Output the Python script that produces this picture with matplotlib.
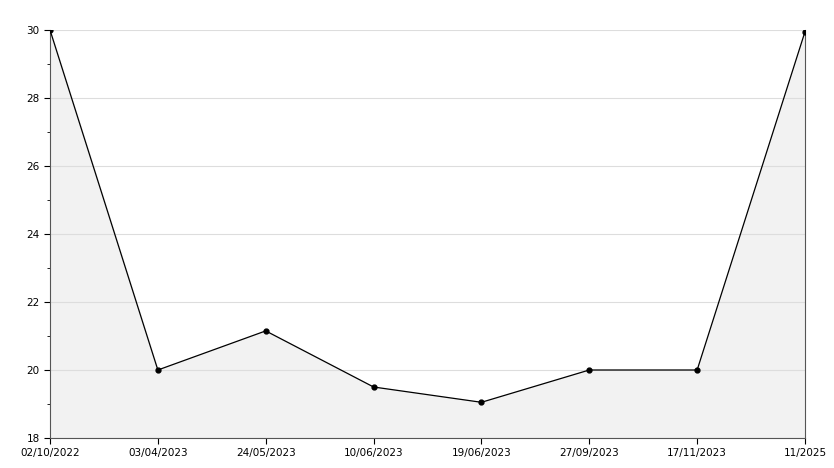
import matplotlib
matplotlib.use("Agg")
import matplotlib.pyplot as plt
from matplotlib.ticker import MultipleLocator

dates = ["02/10/2022", "03/04/2023", "24/05/2023", "10/06/2023",
         "19/06/2023", "27/09/2023", "17/11/2023", "11/2025"]
values = [30, 20, 21.15, 19.5, 19.05, 20, 20, 29.95]

fig = plt.figure(figsize=(8.34, 4.68), dpi=100)
ax = fig.add_axes([50 / 834, 30 / 468, 755 / 834, 408 / 468])
x = list(range(len(dates)))

ax.fill_between(x, values, 18, color="#f2f2f2", zorder=1)
ax.plot(x, values, color="black", linewidth=0.9, marker="o", markersize=3.5, zorder=3)

ax.set_xlim(0, len(dates) - 1)
ax.set_ylim(18, 30)
ax.set_xticks(x)
ax.set_xticklabels(dates)
ax.yaxis.set_major_locator(MultipleLocator(2))
ax.yaxis.set_minor_locator(MultipleLocator(1))
ax.grid(axis="y", which="major", color="#dddddd", linewidth=0.8, zorder=0)
ax.tick_params(labelsize=7.5, length=4, direction="out")
ax.tick_params(which="minor", length=2)

ax.spines["top"].set_visible(False)
ax.spines["right"].set_color("#555555")
ax.spines["left"].set_color("#555555")
ax.spines["bottom"].set_color("#555555")

fig.savefig("out.png", dpi=100)
